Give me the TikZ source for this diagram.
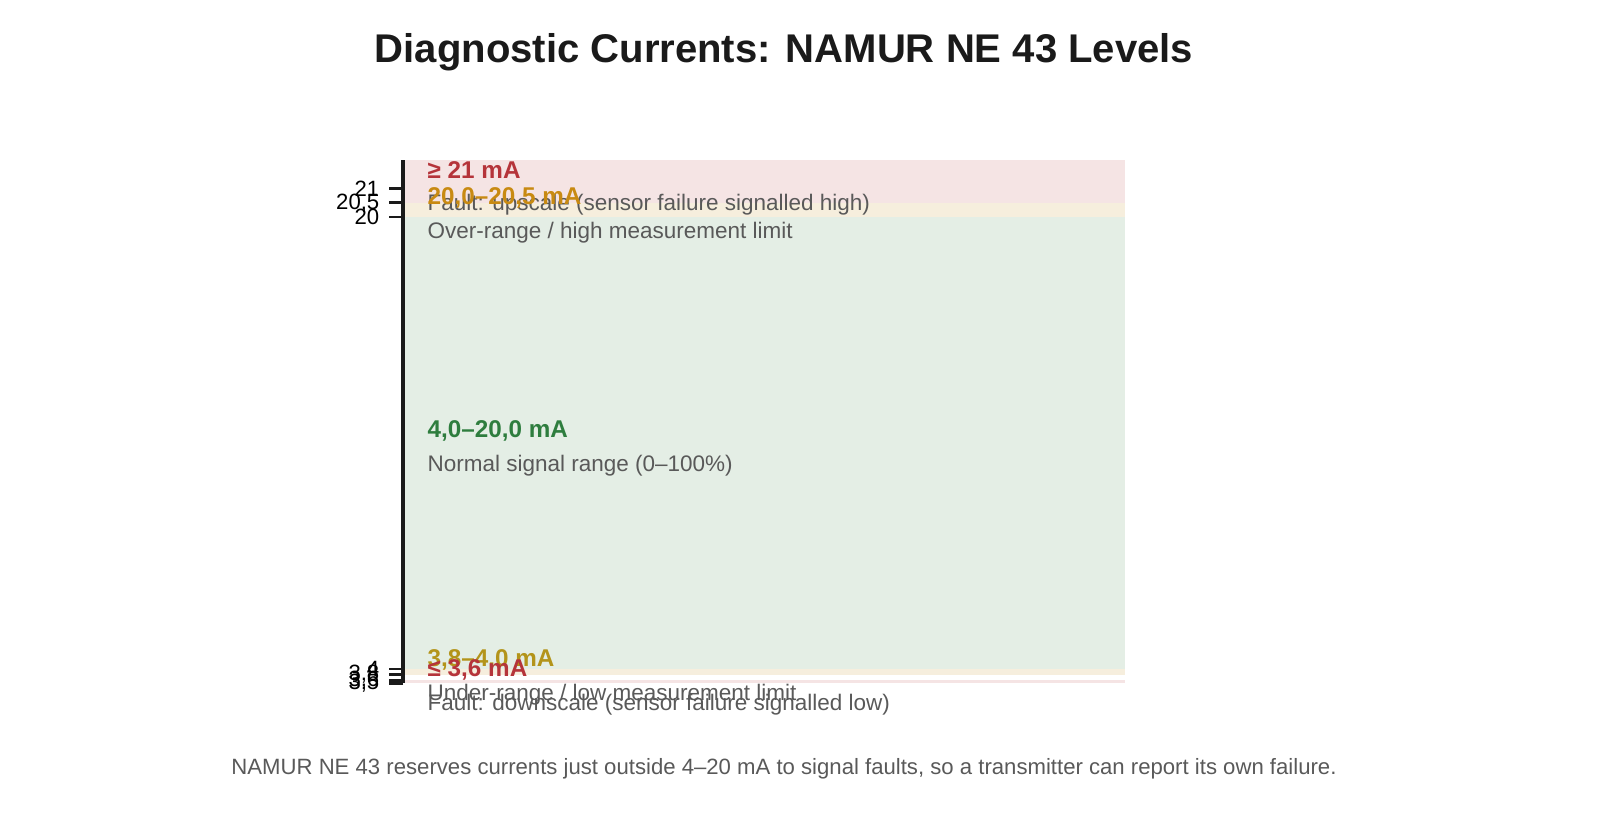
\documentclass[tikz,border=0pt]{standalone}
\usepackage{fontspec}
\setmainfont{Liberation Sans}
\usepackage{tikz}
\usetikzlibrary{calc,positioning}

\definecolor{faultfill}{HTML}{F5E4E4}
\definecolor{limitfill}{HTML}{F6EEDD}
\definecolor{normalfill}{HTML}{E4EEE5}
\definecolor{faulttext}{HTML}{B5343A}
\definecolor{hightext}{HTML}{C88A12}
\definecolor{normaltext}{HTML}{2E7D3E}
\definecolor{lowtext}{HTML}{B3941A}
\definecolor{desctext}{HTML}{595959}
\definecolor{titletext}{HTML}{1A1A1A}

\tikzset{
  title/.style={font=\fontsize{11.4pt}{13pt}\selectfont\bfseries, text=titletext},
  caption/.style={font=\fontsize{6.3pt}{8pt}\selectfont, text=desctext},
  ticklabel/.style={anchor=east, inner sep=0pt, font=\fontsize{6.3pt}{8pt}\selectfont, text=black},
  bandlabel/.style={anchor=west, inner sep=0pt, yshift=0.12cm, font=\fontsize{6.9pt}{8pt}\selectfont\bfseries},
  banddesc/.style={anchor=west, inner sep=0pt, yshift=-0.23cm, font=\fontsize{6.4pt}{8pt}\selectfont, text=desctext},
}

\begin{document}
\begin{tikzpicture}
        \useasboundingbox (0,0) rectangle (16,8.21);

        \node [title] (heading) at (7.84,7.69) {Diagnostic Currents: NAMUR NE 43 Levels};

        \begin{scope}[shift={(0,0.39)}, y=0.2825cm]
            % bands
            \fill [faultfill] (4.05,20.5) rectangle (11.25,22);
            \fill [limitfill] (4.05,20) rectangle (11.25,20.5);
            \fill [normalfill] (4.05,4) rectangle (11.25,20);
            \fill [limitfill] (4.05,3.8) rectangle (11.25,4);
            \fill [faultfill] (4.05,3.5) rectangle (11.25,3.6);

            % axis
            \coordinate (axistop) at (4.03,22);
            \coordinate (axisbottom) at (4.03,3.5);
            \draw [line width=1.1pt, titletext] (axistop) -- (axisbottom);
            \foreach \v/\t in {21/21, 20.5/{20,5}, 20/20, 4/4, 3.8/{3,8}, 3.6/{3,6}, 3.5/{3,5}} {
                \draw [line width=0.8pt, titletext] (4.03,\v) -- (3.89,\v);
                \node [ticklabel] at (3.80,\v) {\t};
            }

            % labels
            \node [bandlabel, text=faulttext] (uplabel) at (4.27,21.25) {≥ 21 mA};
            \node [banddesc] (updesc) at (4.27,21.25) {Fault: upscale (sensor failure signalled high)};
            \node [bandlabel, text=hightext] (overlabel) at (4.27,20.25) {20,0–20,5 mA};
            \node [banddesc] (overdesc) at (4.27,20.25) {Over-range / high measurement limit};
            \node [bandlabel, text=normaltext] (normlabel) at (4.27,12) {4,0–20,0 mA};
            \node [banddesc] (normdesc) at (4.27,12) {Normal signal range (0–100\%)};
            \node [bandlabel, text=lowtext] (underlabel) at (4.27,3.9) {3,8–4,0 mA};
            \node [banddesc] (underdesc) at (4.27,3.9) {Under-range / low measurement limit};
            \node [bandlabel, text=faulttext] (downlabel) at (4.27,3.55) {≤ 3,6 mA};
            \node [banddesc] (downdesc) at (4.27,3.55) {Fault: downscale (sensor failure signalled low)};
        \end{scope}

        \node [caption] (note) at (7.84,0.52) {NAMUR NE 43 reserves currents just outside 4–20 mA to signal faults, so a transmitter can report its own failure.};
    \end{tikzpicture}
\end{document}
